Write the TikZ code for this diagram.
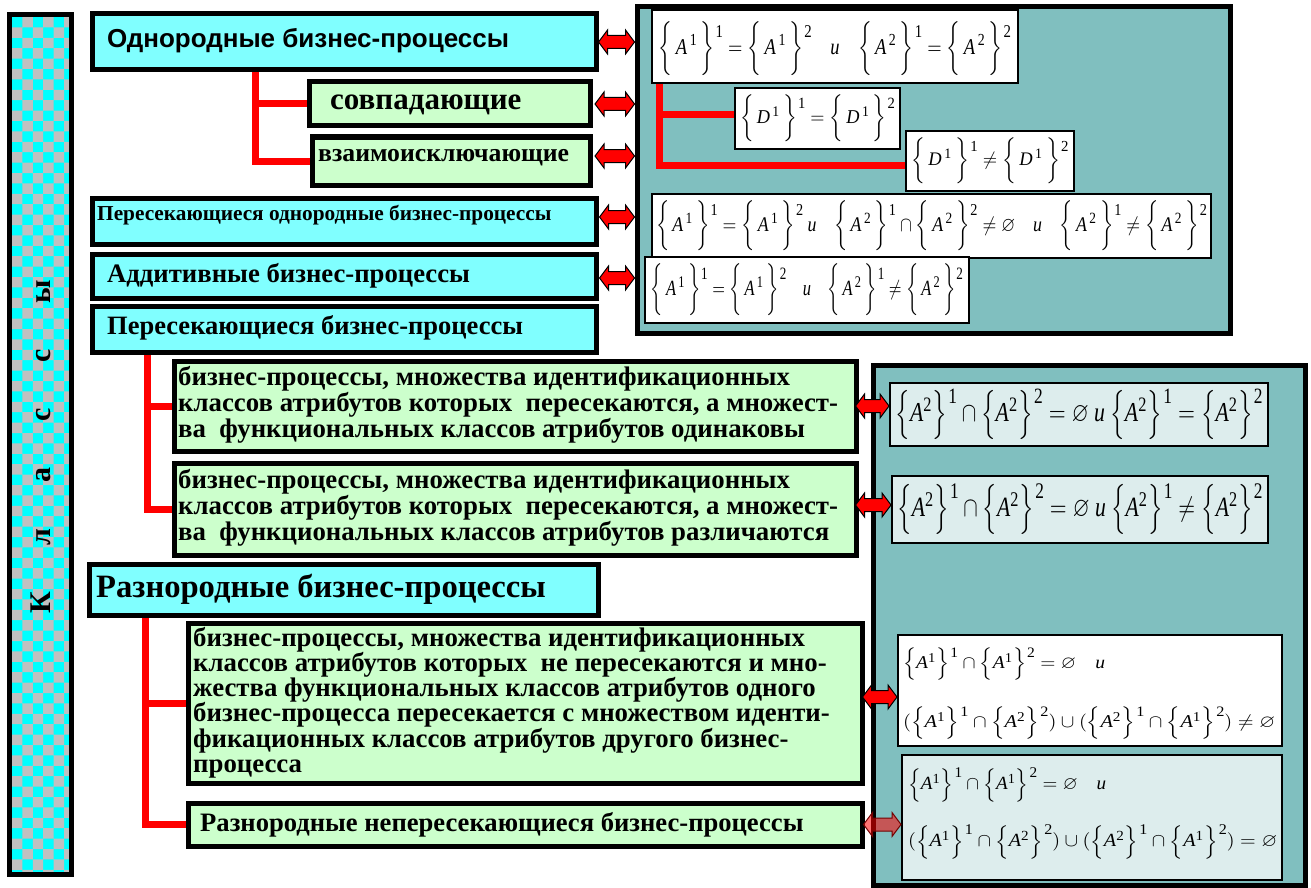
\documentclass[tikz,border=0pt]{standalone}
\usepackage{fontspec}
\usepackage{amssymb}
\setmainfont{Liberation Serif}
\newfontfamily\headsans{Liberation Sans}
\usetikzlibrary{fit,calc}
\pgfdeclarelayer{bg}
\pgfdeclarelayer{wires}
\pgfsetlayers{bg,wires,main}

\definecolor{boxcyan}{HTML}{80FFFF}
\definecolor{boxgreen}{HTML}{CCFFCC}
\definecolor{panelteal}{HTML}{80BFBF}
\definecolor{fmlight}{HTML}{DDEDED}
\definecolor{checkgray}{HTML}{C0C0C0}
\definecolor{checkcyan}{HTML}{00FFFF}

% set notation used in the formula boxes
\newcommand\sups[1]{\mbox{\fontsize{7.5}{7.5}\selectfont#1}}
\newcommand\outs[2]{\mkern1mu\raisebox{#1}{\fontsize{8}{8}\selectfont#2}}
\newcommand\bA[2]{\biggl\{\,\mathit{A}^{\,\sups{#1}}\,\biggr\}\outs{7.5pt}{#2}}
\newcommand\bD[2]{\biggl\{\,\mathit{D}^{\,\sups{#1}}\,\biggr\}\outs{7.5pt}{#2}}
\newcommand\cA[2]{\Bigl\{\mathit{A}^{\sups{#1}}\Bigr\}\outs{6.5pt}{#2}}
\newcommand\conj{\mbox{\itshape и}}
% bold text at a size (and line pitch)
\newcommand\boldat[1]{\bfseries\fontsize{#1}{#1}\selectfont}
\newcommand\boldls[2]{\bfseries\fontsize{#1}{#2}\selectfont}

% horizontal block arrow with heads at both ends
\newcommand\biarrow[3][]{%
  \path[arrowshape,#1] let \p1=#2, \p2=#3 in
    (\x1,\y1) -- (\x1+9pt,\y1+12pt) -- (\x1+9pt,\y1+6.5pt)
    -- (\x2-9pt,\y1+6.5pt) -- (\x2-9pt,\y1+12pt) -- (\x2,\y1)
    -- (\x2-9pt,\y1-12pt) -- (\x2-9pt,\y1-6.5pt)
    -- (\x1+9pt,\y1-6.5pt) -- (\x1+9pt,\y1-12pt) -- cycle;}

\begin{document}
\begin{tikzpicture}[x=1pt,y=-1pt,
  catbox/.style={draw=black, line width=5pt, fill=boxcyan, inner sep=0pt},
  subbox/.style={draw=black, line width=5pt, fill=boxgreen, inner sep=0pt},
  panel/.style={draw=black, line width=5pt, fill=panelteal, inner sep=0pt},
  barframe/.style={draw=black, line width=5pt, inner sep=0pt},
  fbox/.style={draw=black, line width=2pt, fill=white, inner sep=0pt},
  fboxl/.style={fbox, fill=fmlight},
  conn/.style={draw=red, line width=7pt},
  txt/.style={anchor=west, inner sep=0pt},
  formula/.style={inner sep=0pt},
  para/.style={anchor=north west, inner sep=0pt, align=left},
  arrowshape/.style={fill=red, draw=black, line width=1pt},
  ghostarrow/.style={fill=red, fill opacity=0.55, draw=red!45!black}]

\useasboundingbox (0,0) rectangle (1311,888);

\begin{pgfonlayer}{bg}
  \fill[white] (0,0) rectangle (1311,888);
  \node[panel, fit={(637,7) (1230,333)}] (tp) {};
  \node[panel, fit={(873,365) (1305,885)}] (bp) {};
\end{pgfonlayer}

% checkered side bar
\begin{scope}
  \clip (12,17) rectangle (69,872);
  \fill[checkcyan] (12,17) rectangle (69,872);
  \fill[checkgray] \foreach \j [evaluate=\j as \o using {int(1-mod(\j,2))}] in {0,...,83} {
    \foreach \i in {0,2,4} { (12+10.4*\i+10.4*\o, 17+10.4*\j) rectangle ++(10.4,10.4) } };
\end{scope}
\node[barframe, fit={(9.5,14.5) (71.5,874.5)}] (bar) {};
\node[rotate=90, font=\boldat{30}] (barT) at ([yshift=-2pt]bar.center) {\spaceskip=46pt К л а с с ы};

% class boxes
\node[catbox, fit={(92,14) (596,70)}] (odn) {};
\node[subbox, fit={(309,82) (590,126)}] (sovp) {};
\node[subbox, fit={(312,137) (590,185)}] (vzaim) {};
\node[catbox, fit={(92,198) (596,244)}] (pod) {};
\node[catbox, fit={(92,254) (596,298)}] (add) {};
\node[catbox, fit={(92,306) (596,352)}] (per) {};
\node[subbox, fit={(174,361) (856,451)}] (int1) {};
\node[subbox, fit={(174,463) (856,555)}] (int2) {};
\node[catbox, fit={(89,564) (598,615)}] (het) {};
\node[subbox, fit={(188,623) (862,783)}] (het1) {};
\node[subbox, fit={(188,803) (862,846)}] (het2) {};

\node[txt, font=\headsans\boldat{26}] (odnT) at (107,41) {Однородные бизнес-процессы};
\node[txt, font=\boldat{31}] (sovpT) at (330,105) {совпадающие};
\node[txt, font=\boldat{25.7}] (vzaimT) at (318,158) {взаимоисключающие};
\node[txt, font=\boldat{21.3}] (podT) at (97,215) {Пересекающиеся однородные бизнес-процессы};
\node[txt, font=\boldat{26.7}] (addT) at (107,276) {Аддитивные бизнес-процессы};
\node[txt, font=\boldat{26.5}] (perT) at (107,328) {Пересекающиеся бизнес-процессы};
\node[para, font=\boldls{26.8}{24.5}] (int1T) at (178,366) {бизнес-процессы, множества идентификационных\\
классов атрибутов которых \ пересекаются, а множест-\\
ва \ функциональных классов атрибутов одинаковы};
\node[para, font=\boldls{26.8}{24.5}] (int2T) at (178,469) {бизнес-процессы, множества идентификационных\\
классов атрибутов которых \ пересекаются, а множест-\\
ва \ функциональных классов атрибутов различаются};
\node[txt, font=\boldat{32.6}] (hetT) at (96,589) {Разнородные бизнес-процессы};
\node[para, font=\boldls{26.8}{25.2}] (het1T) at (193,627) {бизнес-процессы, множества идентификационных\\
классов атрибутов которых \ не пересекаются и мно-\\
жества функциональных классов атрибутов одного\\
бизнес-процесса пересекается с множеством иденти-\\
фикационных классов атрибутов другого бизнес-\\
процесса};
\node[txt, font=\boldat{26.6}] (het2T) at (200,825) {Разнородные непересекающиеся бизнес-процессы};

% formula boxes, upper panel
\node[fbox, fit={(652,10) (1018,83)}] (f1) {};
\node[fbox, fit={(735,88) (900,149)}] (f2) {};
\node[fbox, fit={(906,131) (1074,191)}] (f3) {};
\node[fbox, fit={(652,194) (1211,258)}] (f4) {};
\node[fbox, fit={(645,257) (969,323)}] (f5) {};
\node[formula] (f1t) at ([yshift=-2pt]f1.center)
  {\resizebox*{352pt}{54pt}{$\bA11=\bA12\quad\conj\quad\bA21=\bA22$}};
\node[formula] (f2t) at (f2.center)
  {\resizebox*{155pt}{47pt}{$\bD11=\bD12$}};
\node[formula] (f3t) at (f3.center)
  {\resizebox*{157pt}{46pt}{$\bD11\neq\bD12$}};
\node[formula] (f4t) at (f4.center)
  {\resizebox*{551pt}{50pt}{$\bA11=\bA12\ \conj\quad\bA21\cap\bA22\neq\varnothing\quad\conj\quad\bA21\neq\bA22$}};
\node[formula] (f5t) at (f5.center)
  {\resizebox*{312pt}{52pt}{$\bA11=\bA12\quad\conj\quad\bA21\neq\bA22$}};

% formula boxes, lower panel
\node[fboxl, fit={(890,383) (1268,446)}] (f6) {};
\node[fboxl, fit={(892,476) (1268,543)}] (f7) {};
\node[fbox, fit={(898,635) (1282,746)}] (f8) {};
\node[fboxl, fit={(902,755) (1282,880)}] (f9) {};
\node[formula] (f6t) at (f6.center)
  {\resizebox*{367pt}{50pt}{$\cA21\cap\cA22=\varnothing\ \conj\ \cA21=\cA22$}};
\node[formula] (f7t) at (f7.center)
  {\resizebox*{365pt}{51pt}{$\cA21\cap\cA22=\varnothing\ \conj\ \cA21\neq\cA22$}};
\node[txt] (f8a) at (903,664)
  {\resizebox*{202pt}{33pt}{$\cA11\cap\cA12=\varnothing\quad\conj$}};
\node[txt] (f8b) at (903,723)
  {\resizebox*{372pt}{33pt}{$(\cA11\cap\cA22)\cup(\cA21\cap\cA12)\neq\varnothing$}};
\node[txt] (f9a) at (908,785)
  {\resizebox*{198pt}{34pt}{$\cA11\cap\cA12=\varnothing\quad\conj$}};
\node[txt] (f9b) at (908,842)
  {\resizebox*{369pt}{34pt}{$(\cA11\cap\cA22)\cup(\cA21\cap\cA12)=\varnothing$}};

% tree connectors
\begin{pgfonlayer}{wires}
  \draw[conn] ([xshift=166pt]odn.south west) |- (sovp.west);
  \draw[conn] ([xshift=166pt]odn.south west) |- (vzaim.west);
  \draw[conn] ([xshift=58pt]per.south west) |- (int1.west);
  \draw[conn] ([xshift=58pt]per.south west) |- (int2.west);
  \draw[conn] ([xshift=59pt]het.south west) |- (het1.west);
  \draw[conn] ([xshift=59pt]het.south west) |- (het2.west);
  \draw[conn] ([xshift=8pt]f1.south west) |- ([yshift=4pt]f2.west);
  \draw[conn] ([xshift=8pt]f1.south west) |- ([yshift=-4pt]f3.west);
\end{pgfonlayer}

% links between classes and their conditions
\biarrow{(odn.east)}{(tp.west)}
\biarrow{([xshift=2.5pt]sovp.east)}{(tp.west)}
\biarrow{([xshift=2.5pt,yshift=5pt]vzaim.east)}{(tp.west)}
\biarrow{([xshift=1pt,yshift=4pt]pod.east)}{(tp.west)}
\biarrow{([xshift=1pt,yshift=-2pt]add.east)}{(tp.west)}
\biarrow{([xshift=-3pt]int1.east)}{(f6.west)}
\biarrow{([xshift=-3pt,yshift=4pt]int2.east)}{(f7.west)}
\biarrow{([xshift=-2pt,yshift=6pt]het1.east)}{(f8.west)}
\biarrow[ghostarrow]{([xshift=-1pt]het2.east)}{(f9.west)}

\end{tikzpicture}
\end{document}
